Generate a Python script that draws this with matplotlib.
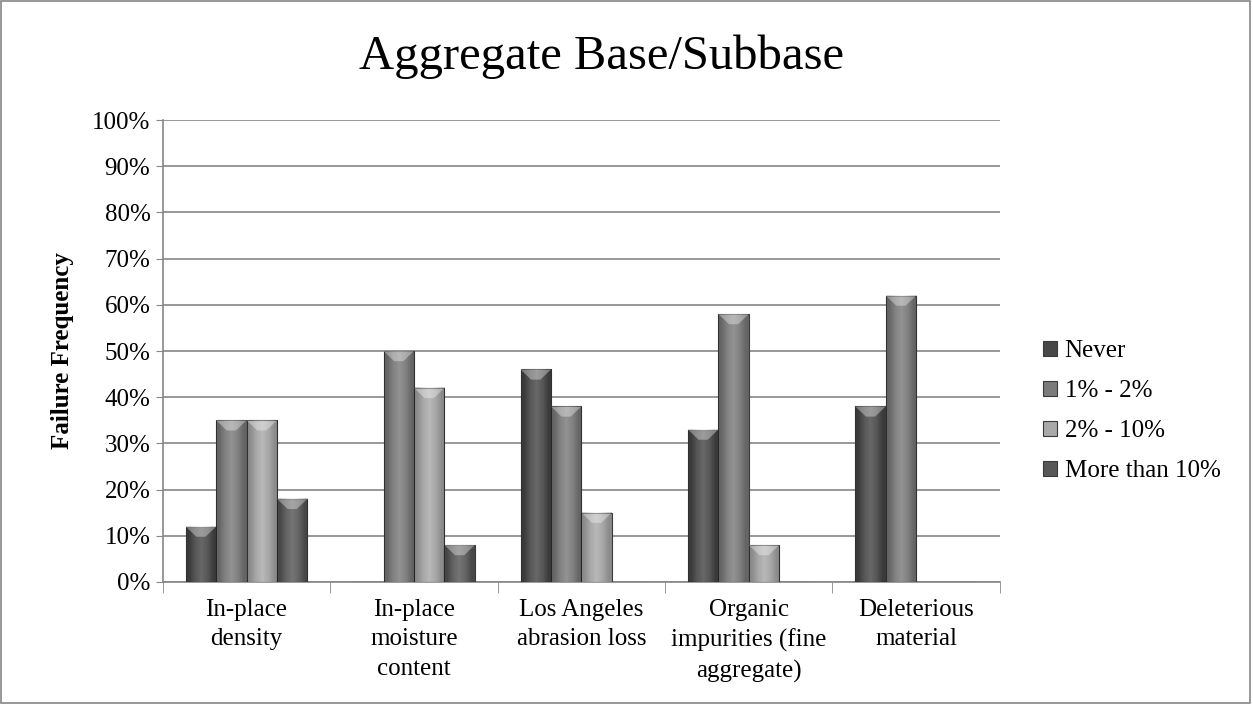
import matplotlib.pyplot as plt
import numpy as np
from matplotlib.patches import Rectangle

plt.rcParams['font.family'] = ['Liberation Serif', 'DejaVu Serif']

categories = ["In-place\ndensity", "In-place\nmoisture\ncontent", "Los Angeles\nabrasion loss",
              "Organic\nimpurities (fine\naggregate)", "Deleterious\nmaterial"]
series = ["Never", "1% - 2%", "2% - 10%", "More than 10%"]
never = [12, 0, 46, 33, 38]
one_two = [35, 50, 38, 58, 62]
two_ten = [35, 42, 15, 8, 0]
more_ten = [18, 8, 0, 0, 0]
values = [never, one_two, two_ten, more_ten]
colors = ["#474747", "#7b7b7b", "#a9a9a9", "#575757"]
yticks = list(range(0, 101, 10))

fig = plt.figure(figsize=(12.53, 7.04), dpi=100)
ax = fig.add_axes([0.130, 0.1733, 0.668, 0.6562])

n = len(series)
width = 1.0 / (n + 1.5)
x = np.arange(len(categories)) + 0.5

for i, (name, vals, c) in enumerate(zip(series, values, colors)):
    pos = x + (i - (n - 1) / 2) * width
    bars = ax.bar(pos, vals, width, color=c, edgecolor="#3a3a3a", linewidth=0.8,
                  label=name, zorder=3)
    # simple bevel look: lighter centre strip and a small top chevron
    for b in bars:
        h = b.get_height()
        if h <= 0:
            continue
        bx, bw = b.get_x(), b.get_width()
        grad = np.array([[0.0, 0.35, 0.55, 0.35, 0.0]])
        ax.imshow(grad, cmap="gray", alpha=0.18, aspect="auto", zorder=3.5,
                  extent=(bx, bx + bw, 0, h), interpolation="bilinear")
        ax.fill([bx, bx + bw, bx + bw * 0.65, bx + bw * 0.35],
                [h, h, h - 2.2, h - 2.2], color="white", alpha=0.35,
                lw=0, zorder=4)

ax.set_xlim(0, len(categories))
ax.set_ylim(0, 100)
ax.set_yticks(yticks)
ax.set_yticklabels([f"{t}%" for t in yticks], fontsize=18)
ax.set_xticks(x)
ax.set_xticklabels(categories, fontsize=18, linespacing=1.45, va="top")
ax.set_xticks(np.arange(len(categories) + 1), minor=True)
ax.tick_params(axis="x", which="major", length=0, pad=12)
ax.tick_params(axis="x", which="minor", length=8, color="#868686")
ax.tick_params(axis="y", length=5, color="#868686", pad=4)
ax.yaxis.grid(True, color="#868686", linewidth=1.2, zorder=0)
for s in ["top", "right"]:
    ax.spines[s].set_visible(False)
for s in ["left", "bottom"]:
    ax.spines[s].set_color("#868686")
    ax.spines[s].set_linewidth(1.2)
ax.set_ylabel("Failure Frequency", fontsize=18, fontweight="bold", labelpad=13)

fig.text(0.48, 0.919, "Aggregate Base/Subbase", fontsize=35, ha="center", va="center")

ax.legend(loc="center left", bbox_to_anchor=(1.04, 0.37), frameon=False, fontsize=18,
          handlelength=0.55, handleheight=0.55, handletextpad=0.3, labelspacing=0.72,
          borderaxespad=0)

fig.add_artist(Rectangle((0.001, 0.002), 0.997, 0.996, transform=fig.transFigure,
                         fill=False, edgecolor="#868686", linewidth=1.2))

fig.savefig("out.png", dpi=100)
